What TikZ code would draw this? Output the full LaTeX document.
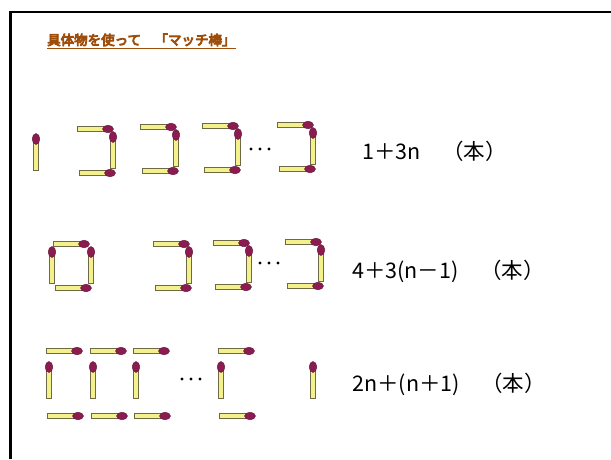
\documentclass[tikz,border=0pt]{standalone}
\usepackage{fontspec}
\setmainfont{Noto Sans CJK JP}
\newfontfamily\titlefont{Noto Sans CJK JP}[FakeBold=6]
\usepackage{tikz}
\definecolor{mtitle}{RGB}{158,78,12}
\definecolor{mwood}{RGB}{244,240,140}
\definecolor{mwoodedge}{RGB}{110,106,70}
\definecolor{mhead}{RGB}{138,28,80}
\definecolor{mheadedge}{RGB}{100,20,60}
\tikzset{
  stick/.style={draw=mwoodedge, fill=mwood, line width=0.8pt},
  head/.style={draw=mheadedge, fill=mhead, line width=0.4pt},
  % match lying flat, head to the right, origin at the tail
  hmatch/.pic={
    \path[stick] (0,-2.4) rectangle (30,2.4);
    \path[head] (31,0) ellipse [x radius=5.5pt, y radius=3.8pt];
  },
  % match standing up, head on top, origin at the tail
  vmatch/.pic={
    \path[stick] (-2.4,0) rectangle (2.4,-30);
    \path[head] (0,-31) ellipse [x radius=3.8pt, y radius=5.5pt];
  },
  % one added square: top, right side, bottom
  cunit/.pic={
    \pic at (0,0) {hmatch};
    \pic at (36,39) {vmatch};
    \pic at (2,44) {hmatch};
  },
  dot/.style={fill=black},
  formula/.style={anchor=base west, inner sep=0pt, font=\fontsize{21.5}{26}\selectfont},
  every picture/.append style={x=1pt, y=-1pt}
}

\begin{document}
\begin{tikzpicture}
  \useasboundingbox (0,0) rectangle (611,459);
  \draw[line width=2.8pt] (10.5,459) -- (10.5,12) -- (611,12);

  % heading
  \node[anchor=base west, text=mtitle, font=\fontsize{13.5}{16}\titlefont, inner sep=0pt]
    (title) at (47,45) {具体物を使って　「マッチ棒」};
  \draw[mtitle, line width=1pt] ([yshift=-3.5pt]title.base west) -- ([yshift=-3.5pt]title.base east);

  % row 1: 1 + 3n
  \pic at (36,170) {vmatch};
  \foreach \x/\y in {77/129, 140/127, 202/126, 277/125}
    \pic at (\x,\y) {cunit};
  \foreach \x in {251,260,269}
    \fill[dot] (\x,149) circle (1.6pt);
  \node[formula] (f1) at (362,159) {1＋3n　（本）};

  % row 2: 4 + 3(n-1)
  \pic at (53,244) {hmatch};
  \pic at (52,283) {vmatch};
  \pic at (91,283) {vmatch};
  \pic at (55,288) {hmatch};
  \foreach \x/\y in {153/244, 213/243, 285/242}
    \pic at (\x,\y) {cunit};
  \foreach \x in {260,269,278}
    \fill[dot] (\x,263) circle (1.6pt);
  \node[formula] (f2) at (352,278) {4＋3(n－1)　（本）};

  % row 3: 2n + (n+1)
  \foreach \x in {46,90,133,218} {
    \pic at (\x,351) {hmatch};
    \pic at (\x+3,398) {vmatch};
    \pic at (\x+1,416) {hmatch};
  }
  \pic at (313,398) {vmatch};
  \foreach \x in {182,191,200}
    \fill[dot] (\x,379) circle (1.6pt);
  \node[formula] (f3) at (352,391) {2n＋(n＋1)　（本）};
\end{tikzpicture}
\end{document}
